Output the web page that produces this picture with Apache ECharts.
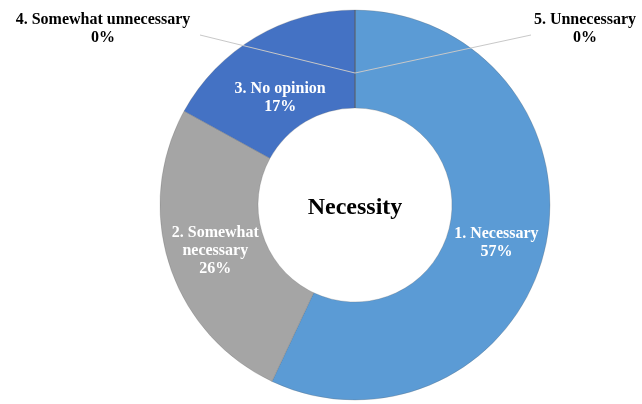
<!DOCTYPE html>
<html>
<head>
<meta charset="utf-8">
<script src="https://cdn.jsdelivr.net/npm/echarts@6/dist/echarts.min.js"></script>
<style>html,body{margin:0;padding:0;background:#fff;}#c{width:642px;height:404px;}</style>
</head>
<body>
<div id="c"></div>
<script>
var categories = ['1. Necessary', '2. Somewhat necessary', '3. No opinion', '4. Somewhat unnecessary', '5. Unnecessary'];
var values = [57, 26, 17, 0, 0];
var colors = ['#5B9BD5', '#A5A5A5', '#4472C4', '#FFC000', '#70AD47'];
var centerTitle = 'Necessity';

var FONT = '"Liberation Serif", "Times New Roman", serif';
var chart = echarts.init(document.getElementById('c'), null, {renderer: 'canvas'});

function wrapInside(name, value) {
  // inside labels longer than 16 characters wrap at the last space
  if (value > 0 && name.length > 16) {
    var k = name.lastIndexOf(' ');
    return name.slice(0, k) + '\n' + name.slice(k + 1);
  }
  return name;
}

var data = categories.map(function (name, i) {
  var item = {name: name, value: values[i], itemStyle: {color: colors[i]}};
  if (values[i] === 0) {
    item.label = {position: 'outside', color: '#000'};
  }
  return item;
});

var CX = 355, CY = 205;
chart.setOption({
  animation: false,
  backgroundColor: '#fff',
  graphic: [{
    type: 'text',
    x: CX, y: CY + 3, z: 100,
    style: {text: centerTitle, align: 'center', verticalAlign: 'middle',
      font: 'bold 24px ' + FONT, fill: '#000'}
  }, {
    type: 'polyline', z: 100, silent: true,
    shape: {points: [[200, 35], [CX, 73], [531, 35]]},
    style: {stroke: '#c8c8c8', lineWidth: 1, fill: null}
  }],
  series: [{
    type: 'pie',
    center: [CX, CY],
    radius: [97, 195],
    startAngle: 90,
    clockwise: true,
    avoidLabelOverlap: false,
    itemStyle: {borderColor: 'rgba(90,90,90,0.3)', borderWidth: 0.8},
    label: {
      show: true,
      position: 'inside',
      color: '#fff',
      fontFamily: FONT,
      fontWeight: 'bold',
      fontSize: 16,
      lineHeight: 18,
      align: 'center',
      formatter: function (p) { return wrapInside(p.name, p.value) + '\n' + p.value + '%'; }
    },
    labelLine: {show: false},
    labelLayout: function (p) {
      if (p.dataIndex === 3) {
        return {x: 103, y: 29, align: 'center', verticalAlign: 'middle'};
      }
      if (p.dataIndex === 4) {
        return {x: 585, y: 29, align: 'center', verticalAlign: 'middle'};
      }
      if (p.dataIndex === 2) {
        return {dx: 1, dy: 21};
      }
      if (p.dataIndex === 1) {
        return {dx: 2, dy: 0};
      }
      if (p.dataIndex === 0) {
        return {dx: -4, dy: 5};
      }
      return {};
    },
    data: data
  }]
});
</script>
</body>
</html>
